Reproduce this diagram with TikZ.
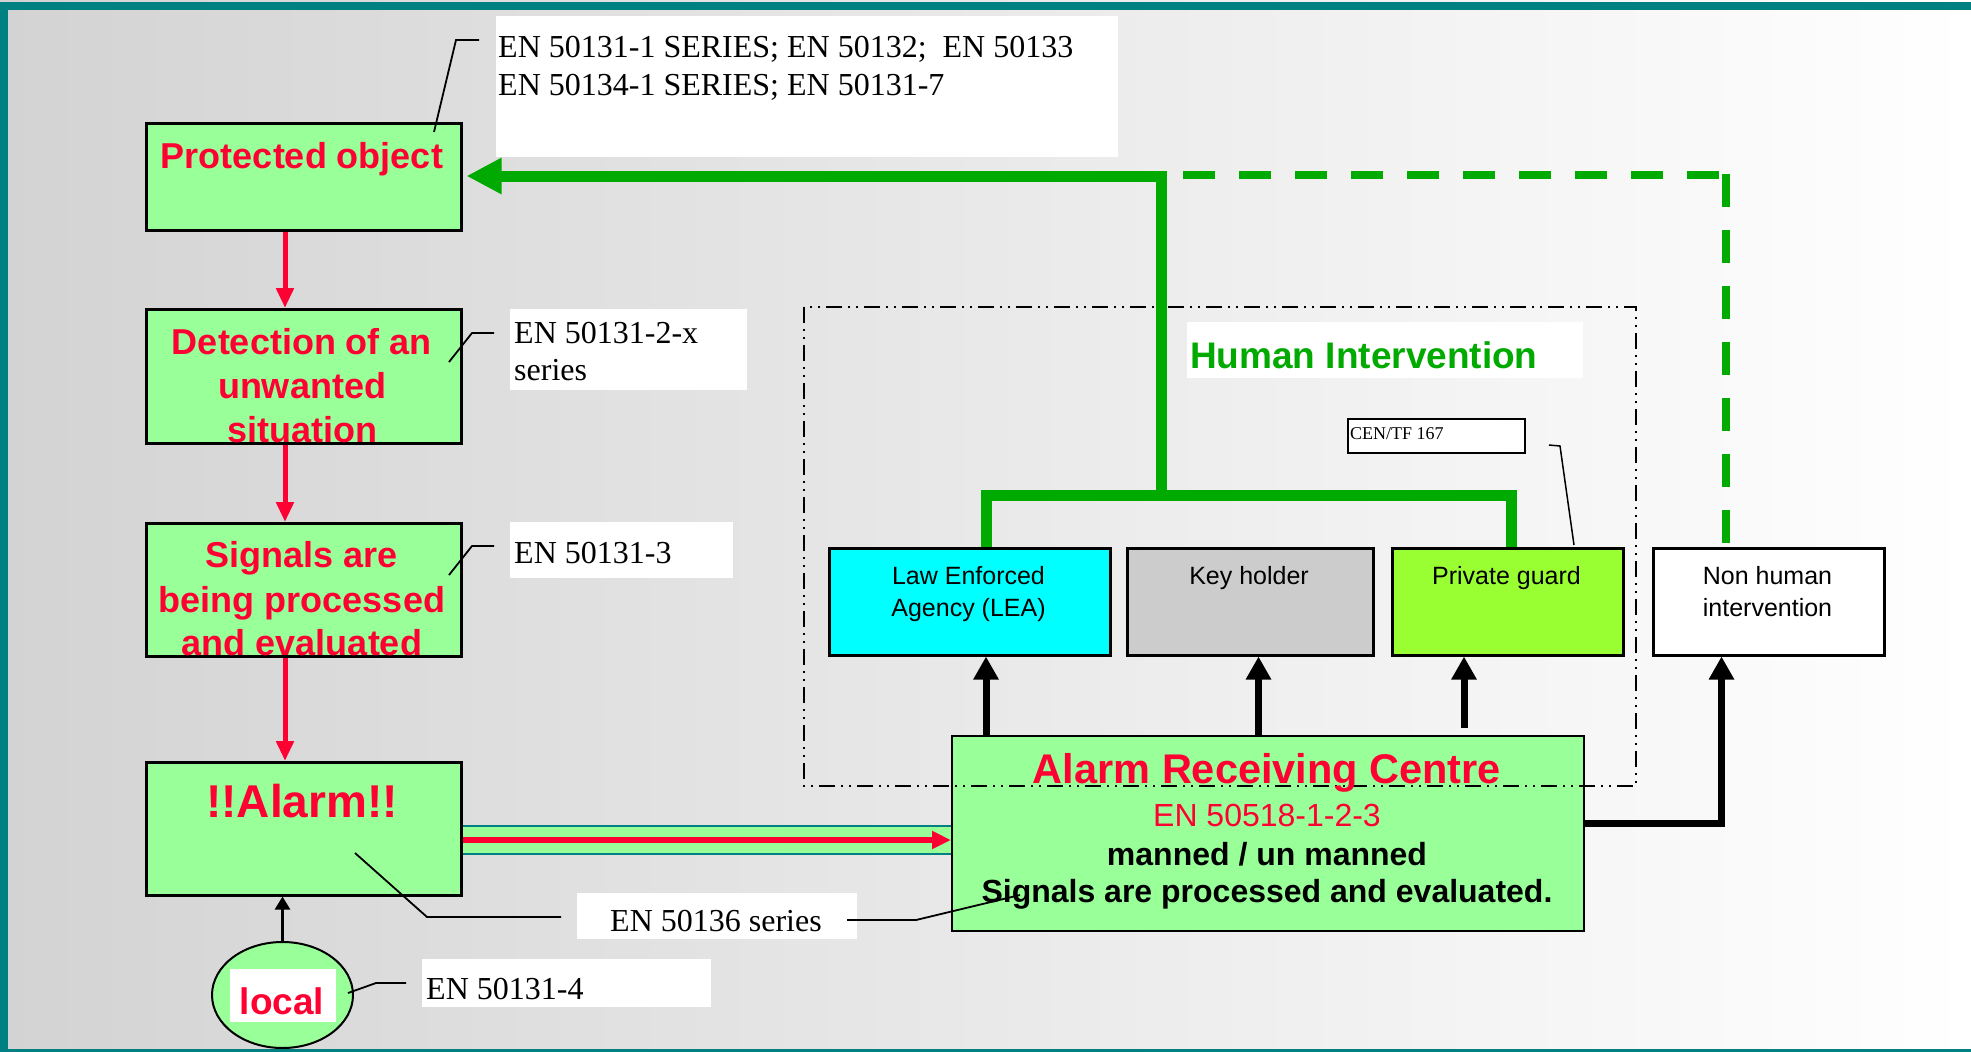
\documentclass[tikz,border=0pt]{standalone}
\usepackage{fontspec}
\setmainfont{Liberation Serif}
\newfontfamily\arialf{Liberation Sans}
\usetikzlibrary{arrows.meta,shapes.geometric,calc}
\definecolor{tealc}{RGB}{0,128,128}
\definecolor{lgreen}{RGB}{153,255,153}
\definecolor{dgreen}{RGB}{0,170,0}
\definecolor{redt}{RGB}{255,0,51}
\definecolor{cyanbox}{RGB}{0,255,255}
\definecolor{keygray}{RGB}{204,204,204}
\definecolor{pguard}{RGB}{153,255,51}
\definecolor{bgleft}{RGB}{211,211,211}
\tikzset{
  boxbase/.style={draw=black, line width=2.5pt, inner sep=0pt, anchor=north west},
  lgbox/.style={boxbase, fill=lgreen},
  notebox/.style={fill=white, draw=none, inner sep=0pt, anchor=north west},
  redbold/.style={text=redt, font=\arialf\bfseries\fontsize{36}{40}\selectfont, anchor=base, inner sep=0pt},
  serif/.style={font=\fontsize{32}{38}\selectfont, anchor=base west, inner sep=0pt},
  sanslab/.style={font=\arialf\fontsize{25}{30}\selectfont, anchor=base, inner sep=0pt},
  arcbold/.style={font=\arialf\bfseries\fontsize{32}{38}\selectfont, anchor=base, inner sep=0pt},
  redarrow/.style={draw=redt, line width=5pt, -{Triangle[length=20pt,width=17pt]}},
  gline/.style={draw=dgreen, line width=11pt, line join=miter},
  blackarrow/.style={draw=black, line width=7pt, -{Triangle[length=23pt,width=24pt]}},
  callout/.style={draw=black, line width=1.8pt},
}
\begin{document}
\begin{tikzpicture}[x=1pt,y=-1pt]
\useasboundingbox (0,0) rectangle (1971,1052);
% background and frame
\shade[left color=bgleft, right color=white] (0,0) rectangle (1971,1052);
\fill[tealc] (0,2) rectangle (1971,10);
\fill[tealc] (0,2) rectangle (8,1052);
\fill[tealc] (0,1049) rectangle (1971,1052);

% note boxes
\node[notebox, minimum width=622pt, minimum height=141pt] (en1) at (496,16) {};
\node[notebox, minimum width=237pt, minimum height=81pt] (en2) at (510,309) {};
\node[notebox, minimum width=223pt, minimum height=56pt] (en3) at (510,522) {};
\node[notebox, minimum width=280pt, minimum height=46pt] (en5) at (577,893) {};
\node[notebox, minimum width=289pt, minimum height=48pt] (en4) at (422,959) {};
\node[notebox, minimum width=396pt, minimum height=56pt] (hibg) at (1187,322) {};
\node[boxbase, fill=white, line width=2pt, minimum width=177pt, minimum height=34pt] (cen) at (1347,418) {};

\node[serif] (en1a) at (498,57) {EN 50131-1 SERIES; EN 50132;~ EN 50133};
\node[serif] (en1b) at (498,95) {EN 50134-1 SERIES; EN 50131-7};
\node[serif] (en2a) at (514,343) {EN 50131-2-x};
\node[serif] (en2b) at (514,380) {series};
\node[serif] (en3a) at (514,563) {EN 50131-3};
\node[serif, anchor=base] (en5a) at (716,931) {EN 50136 series};
\node[serif] (en4a) at (426,999) {EN 50131-4};
\node[font=\fontsize{18}{20}\selectfont, anchor=base west, inner sep=0pt] (cent) at (1350,439) {CEN/TF 167};
\node[text=dgreen, font=\arialf\bfseries\fontsize{37}{40}\selectfont, anchor=base west, inner sep=0pt] (hit) at (1190,368) {Human Intervention};

% left column boxes
\node[lgbox, minimum width=315pt, minimum height=107pt] (po) at (145,122) {};
\node[lgbox, minimum width=315pt, minimum height=134pt] (det) at (145,308) {};
\node[lgbox, minimum width=315pt, minimum height=133pt] (sig) at (145,522) {};
\node[lgbox, minimum width=315pt, minimum height=133pt] (alarm) at (145,761) {};
\node[draw=black, line width=2pt, fill=lgreen, ellipse, minimum width=141pt, minimum height=106pt, inner sep=0pt] (loc) at (282.5,995) {};
\node[fill=white, inner sep=0pt, minimum width=106pt, minimum height=53pt] (locbg) at (283,995.5) {};

% intervention boxes
\node[boxbase, fill=cyanbox, minimum width=281pt, minimum height=107pt] (lea) at (828,547) {};
\node[boxbase, fill=keygray, minimum width=246pt, minimum height=107pt] (key) at (1126,547) {};
\node[boxbase, fill=pguard, minimum width=231pt, minimum height=107pt] (pg) at (1391,547) {};
\node[boxbase, fill=white, minimum width=231pt, minimum height=107pt] (nh) at (1652,547) {};

% ARC box
\node[boxbase, fill=lgreen, line width=2pt, minimum width=632pt, minimum height=195pt] (arc) at (951,735) {};

% dash-dot-dot frame
\draw[line width=2pt, dash pattern=on 16pt off 6pt on 2pt off 6pt on 2pt off 6pt] (804,307) rectangle (1636,786);

% texts in boxes
\node[redbold] (pot) at (302,168) {Protected object};
\node[redbold] (det1) at (302,354) {Detection of an};
\node[redbold] (det2) at (302,398) {unwanted};
\node[redbold] (det3) at (302,442) {situation};
\node[redbold] (sig1) at (302,567) {Signals are};
\node[redbold] (sig2) at (302,612) {being processed};
\node[redbold] (sig3) at (302,655) {and evaluated};
\node[redbold, font=\arialf\bfseries\fontsize{46}{50}\selectfont] (alt) at (302,817) {!!Alarm!!};
\node[redbold, font=\arialf\bfseries\fontsize{37}{40}\selectfont] (loct) at (282,1014) {local};

\node[sanslab] (lea1) at (968.5,584) {Law Enforced};
\node[sanslab] (lea2) at (968.5,616) {Agency (LEA)};
\node[sanslab] (keyt) at (1249,584) {Key holder};
\node[sanslab] (pgt) at (1506.5,584) {Private guard};
\node[sanslab] (nh1) at (1767.5,584) {Non human};
\node[sanslab] (nh2) at (1767.5,616) {intervention};

\node[redbold, font=\arialf\bfseries\fontsize{41.5}{44}\selectfont] (arc1) at (1267,783) {Alarm Receiving Centre};
\node[text=redt, font=\arialf\fontsize{32}{38}\selectfont, anchor=base, inner sep=0pt] (arc2) at (1267,826) {EN 50518-1-2-3};
\node[arcbold] (arc3) at (1267,865) {manned / un manned};
\node[arcbold] (arc4) at (1267,902) {Signals are processed and evaluated.};

% red flow arrows
\coordinate (rx) at (285,0);
\draw[redarrow] (po.south -| rx) -- (det.north -| rx);
\draw[redarrow] (det.south -| rx) -- (sig.north -| rx);
\draw[redarrow] (sig.south -| rx) -- (alarm.north -| rx);

% transmission channel alarm -> ARC
\coordinate (ya) at (0,840);
\coordinate (yt) at (0,826);
\coordinate (yb) at (0,854);
\fill[lgreen] (alarm.east |- yt) rectangle (arc.west |- yb);
\draw[tealc, line width=2pt] (alarm.east |- yt) -- (arc.west |- yt);
\draw[tealc, line width=2pt] (alarm.east |- yb) -- (arc.west |- yb);
\draw[draw=redt, line width=6.5pt, -{Triangle[length=19pt,width=17pt]}] (alarm.east |- ya) -- (arc.west |- ya);

% local -> alarm
\draw[draw=black, line width=2.5pt, -{Triangle[length=13pt,width=15pt]}] (loc.north) -- (alarm.south -| loc.north);

% green intervention lines
\coordinate (jl) at (986,495);
\coordinate (jm) at (1161,495);
\coordinate (jr) at (1511,495);
\coordinate (jt) at (1161,176);
\draw[gline] (lea.north -| jl) -- (jl) -- (jr) -- (pg.north -| jr);
\draw[gline, shorten >=4pt, -{Triangle[length=35pt,width=34pt]}] (jm) -- (jt) -- (po.east |- jt);

% dashed non-human line
\coordinate (ds) at (1167,175);
\coordinate (dc) at (1726,175);
\coordinate (dv) at (1726,174);
\draw[draw=dgreen, line width=8.5pt, dash pattern=on 32pt off 24pt, dash phase=40pt] (ds) -- (dc);
\draw[draw=dgreen, line width=8.5pt, dash pattern=on 33pt off 23pt] (dv) -- (nh.north -| dv);

% black arrows from ARC
\coordinate (bl) at (986,0);
\coordinate (bk) at (1258.5,0);
\coordinate (bp) at (1464,728);
\coordinate (bn) at (1721.5,823);
\draw[blackarrow] (arc.north -| bl) -- (lea.south -| bl);
\draw[blackarrow] (arc.north -| bk) -- (key.south -| bk);
\draw[blackarrow] (bp) -- (pg.south -| bp);
\draw[blackarrow, line join=miter] (arc.east |- bn) -- (bn) -- (nh.south -| bn);

% callout lines
\coordinate (c1a) at (434,132); \coordinate (c1b) at (456,40); \coordinate (c1c) at (479,40);
\draw[callout] (c1a) -- (c1b) -- (c1c);
\coordinate (c2a) at (449,362); \coordinate (c2b) at (472,333); \coordinate (c2c) at (494,333);
\draw[callout] (c2a) -- (c2b) -- (c2c);
\coordinate (c3a) at (449,575); \coordinate (c3b) at (472,546); \coordinate (c3c) at (494,546);
\draw[callout] (c3a) -- (c3b) -- (c3c);
\coordinate (c4a) at (355,853); \coordinate (c4b) at (427,917); \coordinate (c4c) at (561,917);
\draw[callout] (c4a) -- (c4b) -- (c4c);
\coordinate (c5a) at (847,920); \coordinate (c5b) at (916,920); \coordinate (c5c) at (1020,895);
\draw[callout] (c5a) -- (c5b) -- (c5c);
\coordinate (c6a) at (348,993); \coordinate (c6b) at (376,983); \coordinate (c6c) at (406,983);
\draw[callout] (c6a) -- (c6b) -- (c6c);
\coordinate (c7a) at (1549,445); \coordinate (c7b) at (1560,446); \coordinate (c7c) at (1574,545);
\draw[callout, line width=1.5pt] (c7a) -- (c7b) -- (c7c);
\end{tikzpicture}
\end{document}
